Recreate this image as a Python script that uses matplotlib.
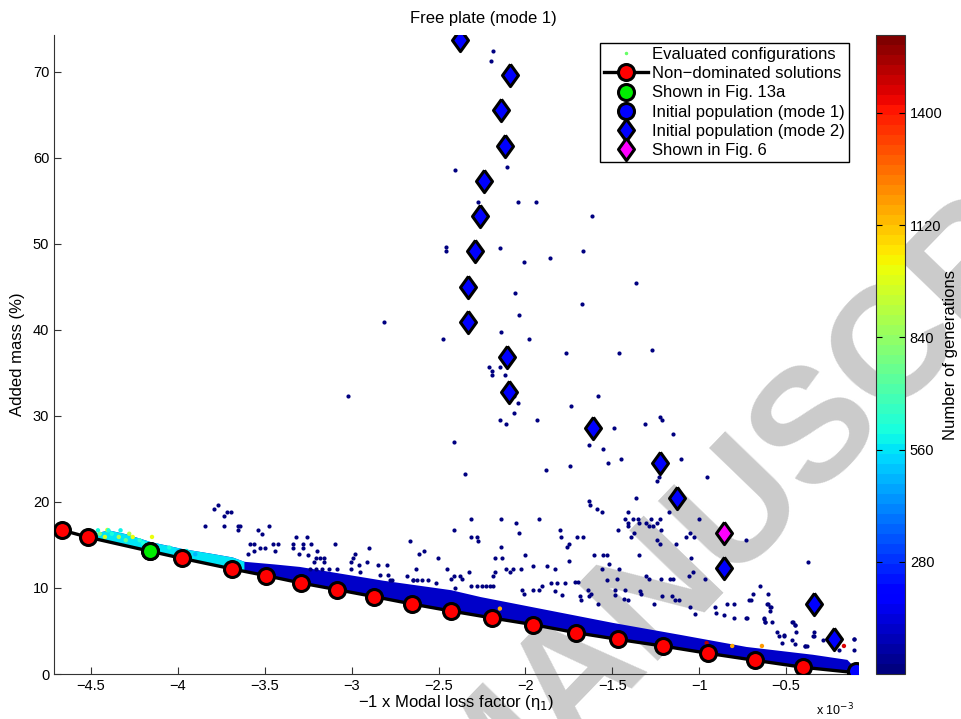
import numpy as np
import matplotlib
matplotlib.use('Agg')
import matplotlib.pyplot as plt
from matplotlib.lines import Line2D
from matplotlib import cm, colors

plt.rcParams['font.family'] = ['Liberation Sans', 'DejaVu Sans']
plt.rcParams['font.size'] = 10.5

# x values are in units of 1e-3
# Non-dominated front (red circles, black line)
front_x = [-4.665, -4.517, -4.160, -3.978, -3.687, -3.495, -3.292, -3.086, -2.872, -2.653,
           -2.430, -2.191, -1.955, -1.711, -1.468, -1.211, -0.950, -0.679, -0.401, -0.098]
front_y = [16.71, 15.90, 14.27, 13.45, 12.21, 11.44, 10.58, 9.81, 9.00, 8.14,
           7.33, 6.51, 5.74, 4.81, 4.03, 3.26, 2.41, 1.59, 0.78, 0.15]

fig13a_x, fig13a_y = -4.160, 14.27
mode1_x, mode1_y = -0.098, 0.40

mode2_x = [-2.379, -2.089, -2.139, -2.116, -2.239, -2.262, -2.292, -2.329, -2.329, -2.104,
           -2.096, -1.610, -1.224, -1.125, -0.856, -0.338, -0.224]
mode2_y = [73.69, 69.60, 65.55, 61.40, 57.30, 53.20, 49.15, 45.00, 40.93, 36.86,
           32.79, 28.60, 24.58, 20.43, 12.33, 8.19, 4.03]

fig6_x, fig6_y = -0.856, 16.36

# dense band of evaluated configurations (upper edge above the front)
band_x = [-4.517, -4.40, -4.30, -4.16, -3.98, -3.80, -3.687, -3.62, -3.45, -3.30, -3.09,
          -2.82, -2.43, -2.26, -1.88, -1.50, -1.11, -0.73, -0.35, -0.15, -0.098]
band_top = [16.2, 16.75, 16.3, 15.4, 14.6, 14.0, 13.6, 13.1, 12.8, 12.5, 11.8,
            10.9, 9.8, 9.0, 7.5, 6.0, 4.6, 3.2, 2.3, 1.7, 0.6]

# later generations sitting on the left part of the band
late_x = [-4.406, -4.149, -4.45, -4.42, -4.38, -4.34, -4.30, -4.26, -4.22, -4.46, -4.40,
          -4.33, -4.28, -4.20, -4.10, -4.05, -4.00, -3.95, -3.90]
late_y = [16.74, 15.93, 16.30, 15.93, 16.30, 15.93, 15.55, 15.93, 15.55, 16.70, 16.70,
          16.70, 16.30, 15.20, 14.70, 14.70, 14.30, 14.30, 13.92]
late_gen = [1010, 1000, 800, 950, 620, 880, 760, 1000, 640, 600, 620,
            590, 900, 620, 560, 600, 520, 580, 480]

# sparse evaluated configurations (early generations)
sparse_x = [-2.185, -2.199, -2.407, -2.106, -2.275, -2.045, -1.941, -1.617, -2.459, -2.457,
            -2.145, -1.667, -2.007, -1.861, -2.060, -1.675, -2.039, -2.473, -2.143, -1.982,
            -1.769, -2.208, -2.194, -2.193, -2.145, -2.116, -2.064, -2.043, -1.738, -2.064,
            -2.147, -2.114, -1.934, -1.585, -2.812, -3.023, -2.411, -2.350, -1.884, -1.744,
            -1.633, -1.366, -1.462, -1.270, -1.226, -1.216, -1.312, -1.491, -1.151, -1.554,
            -1.524, -1.449, -1.105, -1.234, -1.244, -0.956, -1.362, -1.633, -1.631, -1.587,
            -1.558, -1.410, -1.174, -2.139, -2.055, -1.924, -2.037, -1.800, -1.794, -1.705,
            -1.667, -1.751, -1.759, -2.139, -2.177, -2.133, -2.003, -1.604, -1.552, -1.529,
            -1.349, -1.466, -1.429, -1.410, -1.410, -1.383, -1.353, -1.349, -1.305, -1.280,
            -1.245, -1.224, -1.290, -1.266, -1.220, -1.393, -1.374, -1.243, -1.224, -1.136,
            -1.078, -1.052, -1.029, -1.002, -1.049, -0.733, -0.376,
            -1.169, -1.150, -1.222, -1.307, -1.291, -1.462, -1.472, -1.533, -1.558, -1.518,
            -1.750, -1.830, -1.878, -1.959, -2.024, -2.070, -2.089, -2.112, -2.175, -2.185,
            -0.965, -1.035, -1.058, -0.908, -0.856, -0.799, -0.733, -0.722, -0.649, -0.693,
            -0.712, -0.699, -0.605, -0.593, -0.626, -0.622, -0.459, -0.449, -0.551, -0.513,
            -0.342, -0.110, -0.287, -0.392, -0.842, -0.799, -1.119, -1.159, -1.140, -1.215,
            -1.259, -1.343, -1.335, -1.410, -1.487, -1.483, -1.585, -1.715, -1.698,
            -3.791, -3.768, -3.733, -3.716, -3.694, -3.842, -3.733, -3.652, -3.644, -3.652,
            -3.539, -3.516, -3.478, -3.585, -3.562, -3.527, -3.499, -3.451, -3.426, -3.564,
            -3.441, -3.598, -3.322, -3.255, -3.338, -3.336, -3.282, -3.280, -3.232, -3.201,
            -3.305, -3.253, -3.204, -3.182, -3.161, -3.215, -3.158, -3.094, -2.983, -2.994,
            -2.899, -3.006, -2.958, -2.912, -2.850, -2.797, -3.002, -2.951, -3.131, -3.086,
            -2.789, -2.839, -2.614, -2.584, -2.664, -2.505, -2.630, -2.684, -2.646, -2.453,
            -2.413, -2.377, -2.430, -2.367, -2.410, -2.315, -2.312, -2.272, -2.277, -2.325,
            -3.238, -3.207, -3.169, -2.779, -2.766, -2.645, -2.622, -2.594, -2.563, -2.315,
            -2.277, -2.513, -2.406, -1.853, -1.820, -1.771, -2.252, -2.229, -2.204, -2.185,
            -1.959, -2.022, -2.010, -1.903, -1.924, -1.832, -1.790, -1.686, -1.682, -1.640,
            -1.625, -1.633, -1.435, -1.429, -1.053, -1.025, -0.902,
            -0.603, -0.612, -0.587, -0.593, -0.626, -0.624, -0.580, -0.465, -0.451, -0.440,
            -0.338, -0.344, -0.543, -0.511, -0.108, -0.108, -0.522, -0.467, -0.448, -0.392,
            -0.382, -0.196]
sparse_y = [72.44, 71.24, 58.53, 58.95, 54.85, 54.85, 54.85, 53.22, 49.58, 49.12,
            49.53, 49.15, 47.87, 48.30, 44.23, 42.95, 41.74, 38.88, 39.70, 38.88,
            37.26, 35.63, 35.20, 34.77, 35.63, 34.77, 32.33, 31.51, 31.13, 30.28,
            29.50, 29.03, 29.50, 32.33, 40.90, 32.29, 26.98, 23.30, 23.72, 24.15,
            26.56, 45.43, 37.26, 37.64, 29.85, 29.47, 29.03, 28.65, 27.84, 26.16,
            24.58, 24.97, 24.97, 22.91, 22.49, 22.91, 20.43, 20.05, 19.62, 19.23,
            18.80, 18.80, 18.80, 17.99, 17.60, 17.99, 16.36, 16.79, 15.98, 15.98,
            15.98, 15.12, 14.73, 14.73, 13.49, 13.49, 13.88, 13.88, 13.88, 13.88,
            13.88, 16.79, 17.99, 17.60, 17.17, 17.99, 17.99, 17.60, 17.60, 17.99,
            17.60, 17.99, 17.17, 17.17, 16.79, 15.98, 16.36, 15.55, 15.12, 15.12,
            15.98, 16.36, 15.98, 17.99, 13.49, 15.55, 13.07,
            11.01, 11.01, 11.01, 11.44, 11.01, 12.17, 11.01, 10.98, 12.17, 12.84,
            13.10, 12.21, 12.60, 12.60, 12.21, 12.21, 11.83, 12.21, 11.83, 11.44,
            11.01, 11.86, 11.44, 7.76, 6.86, 6.51, 6.51, 6.51, 10.20, 9.27,
            8.57, 8.57, 8.19, 7.76, 6.48, 6.09, 6.09, 5.70, 4.88, 4.47,
            4.47, 4.03, 3.92, 3.26, 8.19, 8.19, 8.57, 9.03, 8.57, 9.03,
            8.19, 9.70, 9.27, 8.57, 9.73, 9.15, 8.19, 10.66, 10.66,
            19.23, 19.65, 18.42, 18.80, 18.80, 17.17, 17.17, 17.17, 17.17, 16.71,
            16.74, 16.33, 17.17, 15.12, 15.12, 14.70, 14.70, 15.12, 15.12, 14.30,
            14.30, 13.92, 15.93, 15.93, 15.12, 14.70, 15.12, 14.70, 15.12, 14.30,
            13.92, 13.88, 13.49, 13.49, 13.49, 13.07, 13.07, 15.12, 13.92, 13.49,
            14.70, 13.07, 12.64, 13.07, 12.64, 12.64, 12.26, 11.83, 12.26, 12.26,
            11.48, 11.48, 13.92, 14.30, 15.51, 13.49, 12.21, 11.44, 10.98, 12.26,
            11.44, 11.44, 11.05, 11.05, 16.71, 17.99, 15.93, 15.51, 15.93, 11.83,
            12.26, 12.26, 12.26, 10.98, 10.98, 10.98, 10.98, 10.98, 10.98, 10.20,
            10.20, 10.58, 10.05, 10.55, 10.55, 10.55, 10.20, 10.20, 10.20, 10.20,
            9.73, 9.73, 9.35, 10.20, 9.73, 9.70, 9.15, 9.03, 8.57, 9.73,
            9.35, 9.03, 8.77, 9.81, 7.79, 7.02, 7.06,
            9.35, 8.10, 7.79, 7.33, 6.44, 6.05, 6.05, 6.05, 5.66, 4.88,
            4.88, 4.38, 4.38, 4.50, 4.07, 2.76, 3.60, 4.00, 3.53, 3.22,
            3.22, 2.76]

# a few late-generation points on the right part
hot_x = [-0.167, -0.957, -0.810, -0.639, -2.147]
hot_y = [3.26, 3.60, 3.26, 3.26, 7.60]
hot_gen = [1450, 1500, 1150, 1180, 1150]

cmap = plt.get_cmap('jet', 64)
norm = colors.Normalize(vmin=0, vmax=1594)

fig = plt.figure(figsize=(9.61, 7.19), dpi=100)

# manuscript watermark, behind everything
fig.text(817 / 961, 1 - 425 / 719, 'MANUSCRIPT', fontsize=116, fontweight='bold',
         family=['Liberation Sans Narrow', 'Liberation Sans'], color='#cbcbcb',
         rotation=46, ha='center', va='center', rotation_mode='anchor', zorder=-10)

ax = fig.add_axes([54 / 961, 45 / 719, 804 / 961, 639 / 719])
ax.patch.set_alpha(0)

# dense band
ax.fill_between(band_x, np.interp(band_x, front_x, front_y), band_top,
                color=cmap(norm(120)), lw=0, zorder=2)
ax.fill_between(band_x[:8], np.interp(band_x[:8], front_x, front_y), band_top[:8],
                color=cmap(norm(560)), lw=0, zorder=2)

ax.scatter(sparse_x, sparse_y, s=9, c=[cmap(norm(20))], lw=0, zorder=3)
ax.scatter(late_x, late_y, s=10, c=late_gen, cmap=cmap, norm=norm, lw=0, zorder=3)
ax.scatter(hot_x, hot_y, s=10, c=hot_gen, cmap=cmap, norm=norm, lw=0, zorder=3)

ax.plot(front_x, front_y, '-o', color='black', lw=2.4, ms=11.5, mfc='red',
        mec='black', mew=2.2, zorder=5)
ax.plot(fig13a_x, fig13a_y, 'o', ms=11.5, mfc='#00ee00', mec='black', mew=2.2, zorder=6)
ax.plot(mode1_x, mode1_y, 'o', ms=11.5, mfc='blue', mec='black', mew=2.2, zorder=6)

diamond = [(0, 1), (0.72, 0), (0, -1), (-0.72, 0), (0, 1)]
ax.plot(mode2_x, mode2_y, ls='none', marker=diamond, ms=16, mfc='blue', mec='black',
        mew=2.2, zorder=6)
ax.plot(fig6_x, fig6_y, ls='none', marker=diamond, ms=16, mfc='magenta', mec='black',
        mew=2.2, zorder=6)

ax.set_xlim(-4.713, -0.086)
ax.set_ylim(0, 74.27)
ax.set_xticks([-4.5, -4, -3.5, -3, -2.5, -2, -1.5, -1, -0.5])
ax.set_xticklabels(['\u22124.5', '\u22124', '\u22123.5', '\u22123', '\u22122.5', '\u22122',
                    '\u22121.5', '\u22121', '\u22120.5'])
ax.set_yticks([0, 10, 20, 30, 40, 50, 60, 70])
ax.tick_params(direction='in', length=5, color='#333333', labelsize=10.5)
ax.spines['top'].set_visible(False)
ax.spines['right'].set_visible(False)
for s in ['left', 'bottom']:
    ax.spines[s].set_color('#333333')

fig.text(483 / 961, 1 - 18 / 719, 'Free plate (mode 1)', ha='center', va='center', fontsize=12)
fig.text(456 / 961, 1 - 702 / 719, '\u22121 x Modal loss factor (\u03b7$_1$)', ha='center',
         va='center', fontsize=12)
fig.text(835 / 961, 1 - 710 / 719, 'x 10$^{-3}$', ha='center', va='center', fontsize=9)
fig.text(18 / 961, 1 - 354 / 719, 'Added mass (%)', ha='center', va='center',
         rotation=90, fontsize=12)

# legend
handles = [
    Line2D([], [], ls='none', marker='.', ms=3, color='#66ff66'),
    Line2D([], [], color='black', lw=2.4, marker='o', ms=11.5, mfc='red', mec='black', mew=2.2),
    Line2D([], [], ls='none', marker='o', ms=11.5, mfc='#00ee00', mec='black', mew=2.2),
    Line2D([], [], ls='none', marker='o', ms=11.5, mfc='blue', mec='black', mew=2.2),
    Line2D([], [], ls='none', marker=diamond, ms=16, mfc='blue', mec='black', mew=2.2),
    Line2D([], [], ls='none', marker=diamond, ms=16, mfc='magenta', mec='black', mew=2.2),
]
labels = ['Evaluated configurations', 'Non\u2212dominated solutions', 'Shown in Fig. 13a',
          'Initial population (mode 1)', 'Initial population (mode 2)', 'Shown in Fig. 6']
leg = ax.legend(handles, labels, loc='upper right', bbox_to_anchor=(849 / 961, 1 - 43 / 719),
                bbox_transform=fig.transFigure, fancybox=False, framealpha=1,
                edgecolor='black', fontsize=12, handlelength=2.6, labelspacing=0.25,
                borderpad=0.25, handletextpad=0.25, borderaxespad=0)
leg.get_frame().set_linewidth(1)
leg.set_zorder(10)

# colorbar
cax = fig.add_axes([876 / 961, 45 / 719, 29 / 961, 639 / 719])
sm = cm.ScalarMappable(norm=norm, cmap=cmap)
cb = fig.colorbar(sm, cax=cax, ticks=[280, 560, 840, 1120, 1400])
cax.tick_params(axis='y', direction='in', length=4, left=True, right=True, labelsize=10.5)
cb.outline.set_edgecolor('#333333')
fig.text(950 / 961, 1 - 355 / 719, 'Number of generations', ha='center', va='center',
         rotation=90, fontsize=12)

fig.savefig('out.png', dpi=100)
